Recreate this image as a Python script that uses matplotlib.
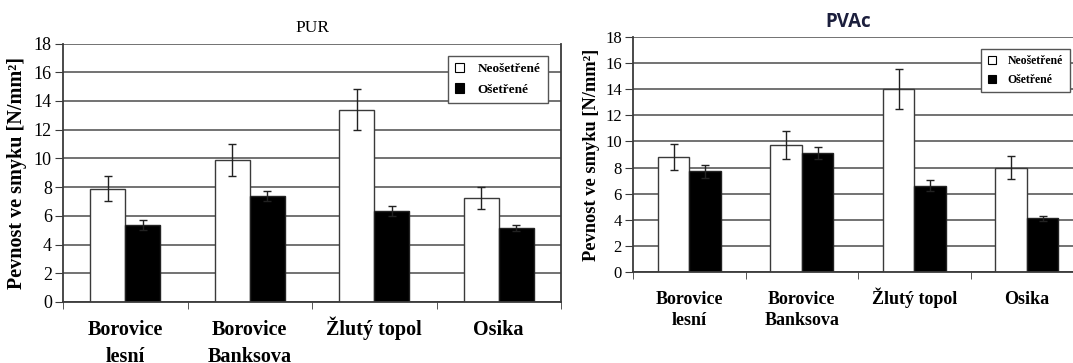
import matplotlib.pyplot as plt
import numpy as np

# pevnost ve smyku pro dvě lepidla, neošetřené vs. ošetřené dřevo
drevo = ["Borovice\nlesní", "Borovice\nBanksova", "Žlutý topol", "Osika"]

pur_neosetrene = [7.9, 9.9, 13.4, 7.25]
pur_neosetrene_err = [0.85, 1.1, 1.45, 0.75]
pur_osetrene = [5.35, 7.38, 6.33, 5.15]
pur_osetrene_err = [0.33, 0.37, 0.33, 0.2]

pvac_neosetrene = [8.78, 9.75, 14.0, 7.98]
pvac_neosetrene_err = [1.0, 1.08, 1.53, 0.88]
pvac_osetrene = [7.71, 9.12, 6.6, 4.12]
pvac_osetrene_err = [0.48, 0.48, 0.43, 0.2]

plt.rcParams['font.family'] = ['Liberation Serif', 'DejaVu Serif']

fig = plt.figure(figsize=(10.73, 3.63), dpi=100)

def kresli(ax, neos, neos_err, osetr, osetr_err, fs_tick, fs_cat, fs_ylab, fs_leg, label_y, linesp, leg_kw):
    x = np.arange(len(drevo))
    w = 0.28
    ax.set_axisbelow(True)
    ax.yaxis.grid(True, color='#5a5a5a', linewidth=1.2)
    ax.bar(x - w/2, neos, w, yerr=neos_err, color='white', edgecolor='#3a3a3a',
           linewidth=1, capsize=3, error_kw=dict(ecolor='#222222', elinewidth=1, capthick=1),
           label='Neošetřené', zorder=2)
    ax.bar(x + w/2, osetr, w, yerr=osetr_err, color='black', edgecolor='#222222',
           linewidth=1, capsize=3, error_kw=dict(ecolor='#222222', elinewidth=1, capthick=1),
           label='Ošetřené', zorder=2)
    ax.set_xlim(-0.5, len(drevo) - 0.5)
    ax.set_ylim(0, 18)
    ax.set_yticks(range(0, 19, 2))
    ax.set_xticks(x)
    ax.set_xticklabels([])
    # popisky kategorií - vždy dva řádky, aby první řádky seděly na stejném účaří
    for xi, nazev in zip(x, drevo):
        if '\n' not in nazev:
            nazev = nazev + '\n '
        ax.text(xi, label_y, nazev, transform=ax.get_xaxis_transform(), ha='center',
                va='baseline', fontsize=fs_cat, fontweight='bold', linespacing=linesp,
                clip_on=False)
    ax.set_xticks(np.arange(-0.5, len(drevo)), minor=True)
    ax.tick_params(axis='x', which='major', length=0)
    ax.tick_params(axis='x', which='minor', length=5, color='#3a3a3a', direction='out')
    ax.tick_params(axis='y', length=6, color='#3a3a3a', labelsize=fs_tick, pad=2)
    for s in ['left', 'bottom', 'right']:
        ax.spines[s].set_color('#3a3a3a')
        ax.spines[s].set_linewidth(1.3)
    ax.spines['top'].set_visible(False)
    ax.set_ylabel('Pevnost ve smyku [N/mm²]', fontsize=fs_ylab, fontweight='bold')
    leg = ax.legend(loc='upper right', prop=dict(weight='bold', size=fs_leg), frameon=True,
                    fancybox=False, edgecolor='#555555', framealpha=1, handlelength=0.7,
                    handleheight=0.7, **leg_kw)
    leg.get_frame().set_linewidth(1)
    for h in leg.legend_handles:
        h.set_edgecolor('black')
        h.set_linewidth(0.8)
    return ax

# PUR
ax1 = fig.add_axes([63/1073, 61/363, 498/1073, 258.5/363])
kresli(ax1, pur_neosetrene, pur_neosetrene_err, pur_osetrene, pur_osetrene_err,
       fs_tick=13, fs_cat=14.5, fs_ylab=14.5, fs_leg=9.5, label_y=-0.232, linesp=1.45,
       leg_kw=dict(bbox_to_anchor=(0.973, 0.952), borderpad=0.55, labelspacing=0.6,
                   handletextpad=1.0, borderaxespad=0))
ax1.yaxis.set_label_coords(-0.072, 0.5)
ax1.set_title('PUR', fontsize=12.5, pad=8)

# PVAc
ax2 = fig.add_axes([633/1073, 91/363, 450/1073, 235/363])
kresli(ax2, pvac_neosetrene, pvac_neosetrene_err, pvac_osetrene, pvac_osetrene_err,
       fs_tick=12, fs_cat=13, fs_ylab=13.2, fs_leg=8.5, label_y=-0.226, linesp=1.35,
       leg_kw=dict(bbox_to_anchor=(0.97, 0.949), borderpad=0.55, labelspacing=0.55,
                   handletextpad=1.0, borderaxespad=0))
ax2.spines['right'].set_visible(False)
ax2.yaxis.set_label_coords(-0.073, 0.5)
fig.text(848/1073, 1 - 22/363, 'PVAc', fontsize=13.5, fontweight='bold',
         family=['Open Sans', 'DejaVu Sans'], color='#1c1f3d', ha='center', va='center')

fig.savefig('out.png', dpi=100)
